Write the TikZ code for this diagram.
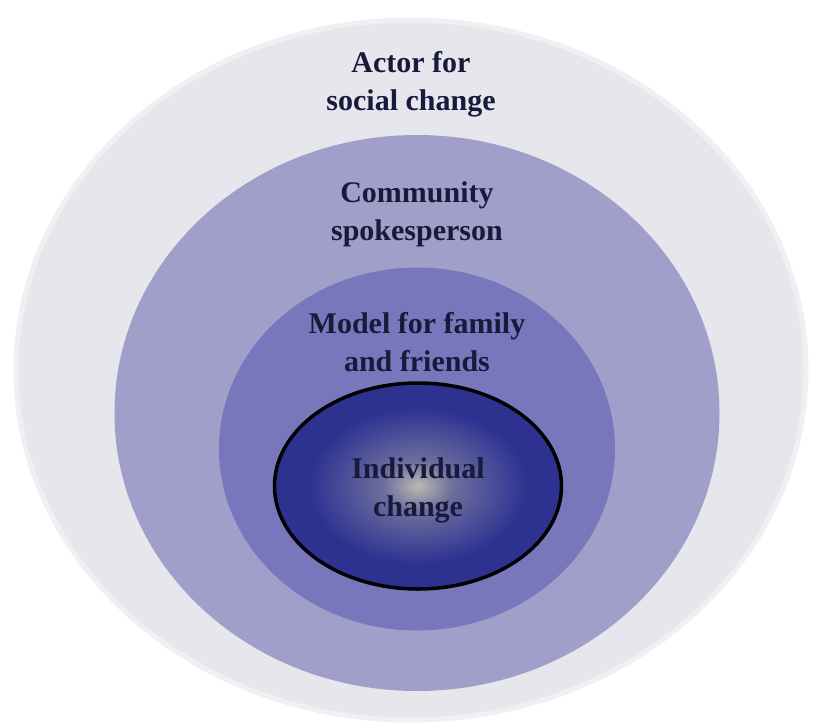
\documentclass[tikz,border=0pt]{standalone}
\usepackage{fontspec}
\setmainfont{Liberation Serif}
\usetikzlibrary{shapes.geometric,positioning}

\definecolor{ringa}{HTML}{E6E6EC}
\definecolor{halo}{HTML}{F0F0F3}
\definecolor{ringb}{HTML}{A09FC9}
\definecolor{ringc}{HTML}{7877BC}
\definecolor{ringd}{HTML}{2D3291}
\definecolor{glow}{HTML}{BDB9AE}
\colorlet{glowmid}{glow!45!ringd}
\definecolor{labelc}{HTML}{181A3C}

\pgfdeclareradialshading{coreglow}{\pgfpoint{0bp}{0bp}}{%
  color(0bp)=(glow); color(6bp)=(glowmid); color(19bp)=(ringd); color(50bp)=(ringd)}

\begin{document}
\begin{tikzpicture}[x=1pt,y=-1pt,
    ring/.style={ellipse, inner sep=0pt},
    lbl/.style={align=center, inner sep=0pt, text=labelc,
      font=\bfseries\fontsize{30}{38}\selectfont}]
            \useasboundingbox (0,0) rectangle (815,724);
            \fill[white] (0,0) rectangle (815,724);

            % rings, from outside in
            \node[ring, fill=ringa, draw=halo, line width=5pt,
              minimum width=790pt, minimum height=700pt] (social) at (411,370) {};
            \node[ring, fill=ringb, minimum width=605pt, minimum height=556pt] (community) at (417,413) {};
            \node[ring, fill=ringc, minimum width=396pt, minimum height=363pt] (family) at (417,449) {};
            \node[ring, shading=coreglow, draw=black, line width=3.5pt,
              minimum width=287pt, minimum height=206pt] (self) at (418,486) {};

            \node[lbl, below=33.5pt of social.north] (social-lbl) {Actor for\\social change};
            \node[lbl, below=46.5pt of community.north] (community-lbl) {Community\\spokesperson};
            \node[lbl, below=44.5pt of family.north] (family-lbl) {Model for family\\and friends};
            \node[lbl, below=76.5pt of self.north] (self-lbl) {Individual\\change};
\end{tikzpicture}
\end{document}
